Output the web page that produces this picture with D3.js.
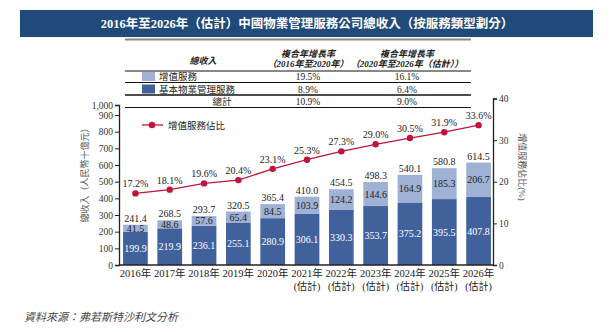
<!DOCTYPE html>
<html>
<head>
<meta charset="utf-8">
<script src="https://cdn.jsdelivr.net/npm/d3@7"></script>
<style>
  body { margin: 0; background: #fff; }
  svg { display: block; font-family: "Liberation Serif", "Noto Sans CJK TC", serif; }
</style>
</head>
<body>
<svg id="chart" width="614" height="332"></svg>
<script>
const years = ["2016年", "2017年", "2018年", "2019年", "2020年", "2021年", "2022年", "2023年", "2024年", "2025年", "2026年"];
const estimated = [false, false, false, false, false, true, true, true, true, true, true];
const basicServices = [199.9, 219.9, 236.1, 255.1, 280.9, 306.1, 330.3, 353.7, 375.2, 395.5, 407.8];
const valueAdded = [41.5, 48.6, 57.6, 65.4, 84.5, 103.9, 124.2, 144.6, 164.9, 185.3, 206.7];
const totals = [241.4, 268.5, 293.7, 320.5, 365.4, 410.0, 454.5, 498.3, 540.1, 580.8, 614.5];
const vasShare = [17.2, 18.1, 19.6, 20.4, 23.1, 25.3, 27.3, 29.0, 30.5, 31.9, 33.6];
const leftTicks = [0, 100, 200, 300, 400, 500, 600, 700, 800, 900, 1000];
const rightTicks = [0, 10, 20, 30, 40];

// CAGR table rows
const tableHead = ["總收入", ["複合年增長率", "（2016年至2020年）"], ["複合年增長率", "（2020年至2026年（估計））"]];
const tableRows = [
  { name: "增值服務", swatch: "vas", c1: "19.5%", c2: "16.1%" },
  { name: "基本物業管理服務", swatch: "basic", c1: "8.9%", c2: "6.4%" },
  { name: "總計", swatch: null, c1: "10.9%", c2: "9.0%" }
];

const colors = { basic: "#41619d", vas: "#9fb2d5", line: "#c0143c", title: "#1f4a7a" };

const svg = d3.select("#chart");

// title bar
svg.append("rect").attr("x", 20).attr("y", 10).attr("width", 573).attr("height", 27).attr("fill", colors.title);
svg.append("text").attr("x", 307).attr("y", 28).attr("text-anchor", "middle")
  .attr("fill", "#fff").attr("font-size", 12.5).attr("font-weight", "bold")
  .text("2016年至2026年（估計）中國物業管理服務公司總收入（按服務類型劃分）");

// scales
const x = d3.scaleBand().domain(years).range([121, 493]).paddingInner(0.28).paddingOuter(0.06);
const yL = d3.scaleLinear().domain([0, 900, 1000]).range([265, 115, 105]);
const yR = d3.scaleLinear().domain([0, 40]).range([265, 98.5]);

// table
const tbl = svg.append("g").attr("font-size", 9.5).attr("fill", "#222");
const tx0 = 125, tx1 = 471, col1 = 308, col2 = 407;
tbl.append("line").attr("x1", tx0).attr("x2", tx1).attr("y1", 39.5).attr("y2", 39.5).attr("stroke", "#888").attr("stroke-width", 2);
[[71, 1], [82.5, 1], [95, 1.3], [107.5, 1]].forEach(([yy, w]) => {
  tbl.append("line").attr("x1", tx0).attr("x2", tx1).attr("y1", yy).attr("y2", yy).attr("stroke", "#111").attr("stroke-width", w);
});
tbl.append("text").attr("x", 203).attr("y", 64).attr("text-anchor", "middle")
  .attr("font-style", "italic").attr("font-weight", "bold").attr("font-size", 9).text(tableHead[0]);
[[col1, tableHead[1]], [col2, tableHead[2]]].forEach(([cx, lines]) => {
  tbl.append("text").attr("x", cx).attr("y", 57).attr("text-anchor", "middle")
    .attr("font-style", "italic").attr("font-weight", "bold").attr("font-size", 9).text(lines[0]);
  tbl.append("text").attr("x", cx).attr("y", 67).attr("text-anchor", "middle")
    .attr("font-style", "italic").attr("font-weight", "bold").attr("font-size", 9).text(lines[1]);
});
const rowY = [80, 92.5, 104.5];
tableRows.forEach((r, i) => {
  if (r.swatch) {
    tbl.append("rect").attr("x", 142).attr("y", rowY[i] - 8).attr("width", 13).attr("height", 9).attr("fill", colors[r.swatch]);
    tbl.append("text").attr("x", 159).attr("y", rowY[i]).text(r.name);
  } else {
    tbl.append("text").attr("x", 222).attr("y", rowY[i]).attr("text-anchor", "middle").text(r.name);
  }
  tbl.append("text").attr("x", col1).attr("y", rowY[i]).attr("text-anchor", "middle").text(r.c1);
  tbl.append("text").attr("x", col2).attr("y", rowY[i]).attr("text-anchor", "middle").text(r.c2);
});

// stacked bars
const stacked = years.map((yr, i) => ({ yr, basic: basicServices[i], vas: valueAdded[i], total: totals[i] }));
const bars = svg.append("g");
bars.selectAll(".basic").data(stacked).join("rect")
  .attr("x", d => x(d.yr)).attr("width", x.bandwidth())
  .attr("y", d => yL(d.basic)).attr("height", d => yL(0) - yL(d.basic))
  .attr("fill", colors.basic);
bars.selectAll(".vas").data(stacked).join("rect")
  .attr("x", d => x(d.yr)).attr("width", x.bandwidth())
  .attr("y", d => yL(d.basic + d.vas)).attr("height", d => yL(d.basic) - yL(d.basic + d.vas))
  .attr("fill", colors.vas);

const labels = svg.append("g").attr("font-size", 10).attr("text-anchor", "middle");
labels.selectAll(".lb").data(stacked).join("text")
  .attr("x", d => x(d.yr) + x.bandwidth() / 2)
  .attr("y", d => (yL(0) + yL(d.basic)) / 2 + 3.5)
  .attr("fill", "#fff").text(d => d.basic.toFixed(1));
labels.selectAll(".lv").data(stacked).join("text")
  .attr("x", d => x(d.yr) + x.bandwidth() / 2)
  .attr("y", d => (yL(d.basic) + yL(d.basic + d.vas)) / 2 + 3.5)
  .attr("fill", "#222").text(d => d.vas.toFixed(1));
labels.selectAll(".lt").data(stacked).join("text")
  .attr("x", d => x(d.yr) + x.bandwidth() / 2)
  .attr("y", d => yL(d.total) - 3)
  .attr("fill", "#222").text(d => d.total.toFixed(1));

// share line
const pts = years.map((yr, i) => ({ yr, v: vasShare[i] }));
const cx = d => x(d.yr) + x.bandwidth() / 2;
svg.append("path").datum(pts)
  .attr("d", d3.line().x(cx).y(d => yR(d.v)))
  .attr("fill", "none").attr("stroke", colors.line).attr("stroke-width", 1.3);
svg.append("g").selectAll("circle").data(pts).join("circle")
  .attr("cx", cx).attr("cy", d => yR(d.v)).attr("r", 3.2).attr("fill", colors.line);
svg.append("g").attr("font-size", 10).attr("text-anchor", "middle").attr("fill", "#222")
  .selectAll("text").data(pts).join("text")
  .attr("x", cx).attr("y", d => yR(d.v) - 6).text(d => d.v.toFixed(1) + "%");

// line legend
svg.append("line").attr("x1", 142).attr("x2", 163).attr("y1", 125).attr("y2", 125).attr("stroke", colors.line).attr("stroke-width", 1.3);
svg.append("circle").attr("cx", 152).attr("cy", 125).attr("r", 3.2).attr("fill", colors.line);
svg.append("text").attr("x", 168).attr("y", 128.5).attr("font-size", 9.5).attr("fill", "#222").text("增值服務佔比");

// axes
const axL = svg.append("g").attr("transform", "translate(119,0)")
  .call(d3.axisLeft(yL).tickValues(leftTicks).tickFormat(d3.format(",")).tickSizeOuter(0).tickSize(4).tickPadding(2));
const axR = svg.append("g").attr("transform", "translate(493,0)")
  .call(d3.axisRight(yR).tickValues(rightTicks).tickSizeOuter(0).tickSize(4).tickPadding(2));
[axL, axR].forEach(ax => {
  ax.select(".domain").attr("stroke", "#222").attr("stroke-width", 1.3);
  ax.selectAll(".tick line").attr("stroke", "#222");
  ax.selectAll(".tick text").attr("font-size", 9.5).attr("fill", "#333").attr("font-family", "Liberation Serif");
});
svg.append("line").attr("x1", 119).attr("x2", 493).attr("y1", 265).attr("y2", 265).attr("stroke", "#222").attr("stroke-width", 1.3);

// x labels, with an "(估計)" line under the forecast years
const xl = svg.append("g").attr("font-size", 10.5).attr("text-anchor", "middle").attr("fill", "#222");
years.forEach((yr, i) => {
  const c = x(yr) + x.bandwidth() / 2;
  xl.append("text").attr("x", c).attr("y", 277).text(yr);
  if (estimated[i]) {
    xl.append("text").attr("x", c).attr("y", 290).attr("font-size", 10).text("(估計)");
  }
});

// axis titles
svg.append("text").attr("transform", "translate(88,173) rotate(-90)").attr("text-anchor", "middle")
  .attr("font-size", 9).attr("fill", "#555").text("總收入（人民幣十億元）");
svg.append("text").attr("transform", "translate(519,167) rotate(90)").attr("text-anchor", "middle")
  .attr("font-size", 9).attr("fill", "#555").text("增值服務佔比(%)");

// source
svg.append("text").attr("x", 24).attr("y", 321).attr("font-size", 11).attr("font-style", "italic")
  .attr("fill", "#444").text("資料來源：弗若斯特沙利文分析");
</script>
</body>
</html>
